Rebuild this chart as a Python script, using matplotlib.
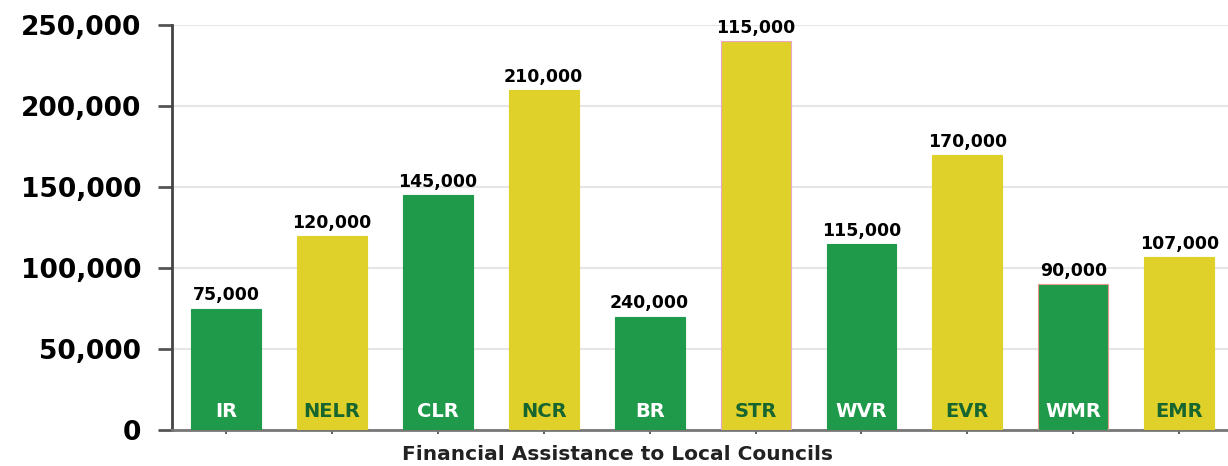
import matplotlib

matplotlib.use("Agg")
import matplotlib.pyplot as plt
from matplotlib.ticker import FuncFormatter


# Chart data.
regions = ["IR", "NELR", "CLR", "NCR", "BR", "STR", "WVR", "EVR", "WMR", "EMR"]
bar_heights = [75000, 120000, 145000, 210000, 70000, 240000, 115000, 170000, 90000, 107000]
value_labels = ["75,000", "120,000", "145,000", "210,000", "240,000",
                "115,000", "115,000", "170,000", "90,000", "107,000"]
y_ticks = [0, 50000, 100000, 150000, 200000, 250000]

GREEN = "#1e9a4a"
YELLOW = "#e0d12a"
DARK_GREEN = "#17652f"

plt.rcParams["font.family"] = ["DejaVu Sans"]


def main():
    fig = plt.figure(figsize=(12.28, 4.66), dpi=100)
    ax = fig.add_axes([0.140, 0.0773, 0.860, 0.8687])

    x = list(range(len(regions)))
    colors = [GREEN if i % 2 == 0 else YELLOW for i in x]
    edges = [c for c in colors]
    edges[5] = "#e9a6c8"
    edges[8] = "#e79a8a"
    ax.bar(x, bar_heights, width=0.66, color=colors, edgecolor=edges,
           linewidth=0.8, zorder=3)

    # Value labels above the bars and region names inside them.
    for i, (h, lab, name) in enumerate(zip(bar_heights, value_labels, regions)):
        ax.annotate(lab, (i, h), xytext=(0, 3), textcoords="offset points",
                    ha="center", va="bottom", fontsize=12.5, fontweight="bold",
                    color="black", zorder=4)
        inner = "white" if i % 2 == 0 else DARK_GREEN
        ax.text(i, 11500, name, ha="center", va="center", fontsize=14,
                fontweight="bold", color=inner, zorder=4)

    ax.set_xlim(-0.51, 9.46)
    ax.set_ylim(0, 250000)
    ax.set_yticks(y_ticks)
    ax.yaxis.set_major_formatter(FuncFormatter(lambda v, p: f"{int(v):,}"))
    for lbl in ax.get_yticklabels():
        lbl.set_fontweight("bold")
        lbl.set_fontsize(19)
    ax.tick_params(axis="y", length=10, width=2, color="#555555", pad=12)
    ax.set_xticks(x)
    ax.set_xticklabels([])
    ax.tick_params(axis="x", length=3, width=1.2, color="#444444")

    ax.grid(axis="y", color="#e6e6e6", linewidth=1.5, zorder=0)
    ax.spines["top"].set_visible(False)
    ax.spines["right"].set_visible(False)
    ax.spines["left"].set_color("#444444")
    ax.spines["left"].set_linewidth(2)
    ax.spines["bottom"].set_color("#777777")
    ax.spines["bottom"].set_linewidth(2)

    fig.text(0.503, 0.005, "Financial Assistance to Local Councils", ha="center",
             va="bottom", fontsize=14.5, fontweight="bold", color="#222222")

    fig.savefig("out.png", dpi=100)
    plt.close(fig)


if __name__ == "__main__":
    main()
